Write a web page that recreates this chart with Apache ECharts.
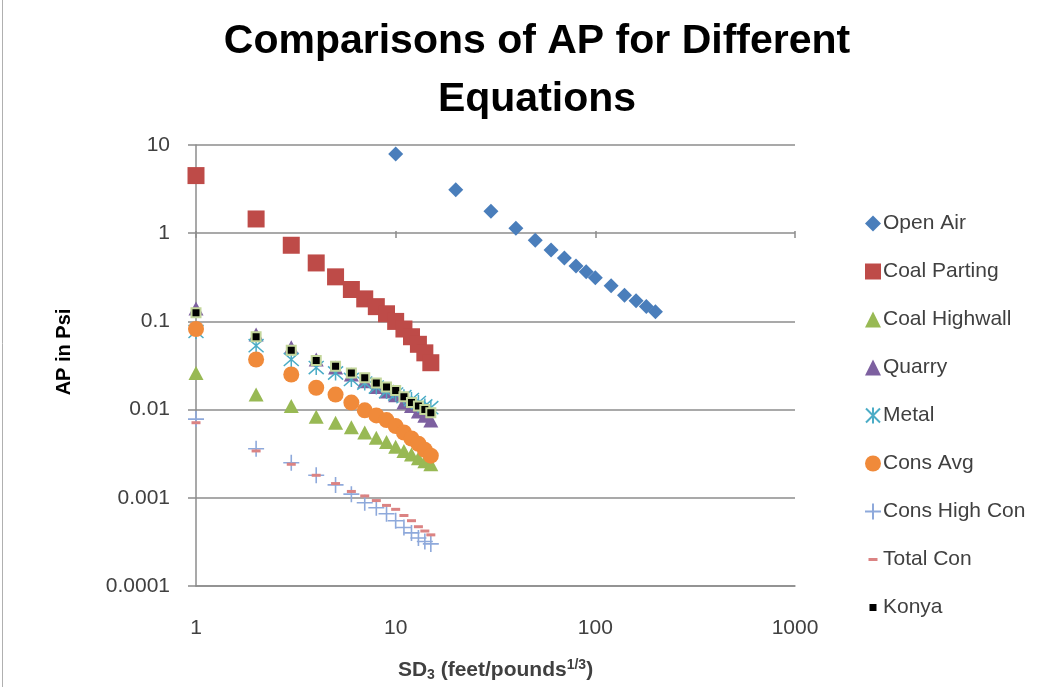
<!DOCTYPE html>
<html>
<head>
<meta charset="utf-8">
<title>Comparisons of AP for Different Equations</title>
<script src="https://cdn.jsdelivr.net/npm/echarts@6/dist/echarts.min.js"></script>
<style>
  html, body { margin: 0; padding: 0; background: #ffffff; }
  #chart { width: 1050px; height: 687px; }
</style>
</head>
<body>
<div id="chart"></div>
<script>
// Scaled distance values (feet/pounds^1/3)
const sdShort = [1, 2, 3, 4, 5, 6, 7, 8, 9, 10, 11, 12, 13, 14, 15];
const sdOpenAir = [10, 20, 30, 40, 50, 60, 70, 80, 90, 100, 120, 140, 160, 180, 200];

// Air overpressure (psi) per equation
const openAir      = [7.9, 3.1, 1.77, 1.14, 0.83, 0.645, 0.525, 0.426, 0.366, 0.312, 0.254, 0.198, 0.172, 0.148, 0.129];
const coalParting  = [4.5, 1.45, 0.73, 0.46, 0.32, 0.23, 0.18, 0.147, 0.122, 0.1, 0.082, 0.067, 0.055, 0.044, 0.034];
const coalHighwall = [0.026, 0.0148, 0.011, 0.0083, 0.0071, 0.0063, 0.0055, 0.0048, 0.0043, 0.0038, 0.0034, 0.0031, 0.0028, 0.0026, 0.0024];
const quarry       = [0.14, 0.071, 0.051, 0.037, 0.03, 0.025, 0.021, 0.018, 0.016, 0.0145, 0.012, 0.011, 0.0095, 0.0085, 0.0075];
const metal        = [0.077, 0.053, 0.037, 0.03, 0.026, 0.022, 0.02, 0.018, 0.016, 0.015, 0.014, 0.013, 0.012, 0.011, 0.0105];
const consAvg      = [0.082, 0.037, 0.025, 0.0177, 0.0148, 0.012, 0.0098, 0.0086, 0.0076, 0.0065, 0.0055, 0.0047, 0.0041, 0.0035, 0.003];
const consHighCon  = [0.0078, 0.0036, 0.0025, 0.0018, 0.0014, 0.0011, 0.00088, 0.00077, 0.00066, 0.00055, 0.00046, 0.0004, 0.00035, 0.00032, 0.0003];
const totalCon     = [0.0071, 0.0034, 0.0024, 0.0018, 0.00145, 0.00118, 0.00105, 0.00093, 0.00082, 0.00074, 0.00063, 0.00055, 0.00047, 0.00042, 0.00038];
const konya        = [0.125, 0.067, 0.047, 0.036, 0.031, 0.026, 0.023, 0.02, 0.018, 0.0165, 0.014, 0.012, 0.011, 0.01, 0.0092];

// Axis tick labels
const xTickLabels = ['1', '10', '100', '1000'];
const yTickLabels = ['0.0001', '0.001', '0.01', '0.1', '1', '10'];

const FONT = '"Liberation Sans", Arial, sans-serif';
const GRID_GRAY = '#8c8c8c';
const TEXT_GRAY = '#404040';

function pairs(xs, ys) {
  return xs.map((x, i) => [x, ys[i]]);
}

// Marker outlines
const PLUS_PATH = 'path://M8,0 L8,16 M0,8 L16,8';
const ASTERISK_PATH = 'path://M1,1 L15,15 M15,1 L1,15 M8,0 L8,16';
// Legend icons padded with near-invisible corner dots so the small marks keep their size
const KONYA_ICON = 'path://M0,0h0.01v0.01h-0.01z M16,16h0.01v0.01h-0.01z M4.5,4.5h7v7h-7z';
const DASH_ICON = 'path://M0,0h0.01v0.01h-0.01z M16,16h0.01v0.01h-0.01z M3.5,6.5h9v3h-9z';

const chart = echarts.init(document.getElementById('chart'), null, { renderer: 'canvas' });

const series = [
  { name: 'Open Air', data: pairs(sdOpenAir, openAir), symbol: 'diamond', symbolSize: 15,
    itemStyle: { color: '#4A7EBB' } },
  { name: 'Coal Parting', data: pairs(sdShort, coalParting), symbol: 'rect', symbolSize: 17,
    itemStyle: { color: '#BE4B48' } },
  { name: 'Coal Highwall', data: pairs(sdShort, coalHighwall), symbol: 'triangle', symbolSize: [15, 14],
    itemStyle: { color: '#98B954' } },
  { name: 'Quarry', data: pairs(sdShort, quarry), symbol: 'triangle', symbolSize: [15, 14],
    itemStyle: { color: '#7D60A0' } },
  { name: 'Metal', data: pairs(sdShort, metal), symbol: ASTERISK_PATH, symbolSize: 15,
    itemStyle: { color: 'rgba(0,0,0,0)', borderColor: '#4BACC6', borderWidth: 1.5 } },
  { name: 'Cons Avg', data: pairs(sdShort, consAvg), symbol: 'circle', symbolSize: 16,
    itemStyle: { color: '#F08A3A' } },
  { name: 'Cons High Con', data: pairs(sdShort, consHighCon), symbol: PLUS_PATH, symbolSize: 16,
    itemStyle: { color: 'rgba(0,0,0,0)', borderColor: '#8EA9DB', borderWidth: 1.6 } },
  { name: 'Total Con', data: pairs(sdShort, totalCon), symbol: 'rect', symbolSize: [9, 3],
    itemStyle: { color: '#DB8383' } },
  { name: 'Konya', data: pairs(sdShort, konya), symbol: 'rect', symbolSize: 9,
    itemStyle: { color: '#000000', borderColor: '#C3D69B', borderWidth: 2 } }
].map(s => {
  s.itemStyle.opacity = 1;
  return Object.assign({ type: 'scatter', xAxisIndex: 0, yAxisIndex: 0, emphasis: { disabled: true } }, s);
});

const legendItems = {
  'Konya': { icon: KONYA_ICON, itemStyle: { color: '#000000', borderWidth: 0 } },
  'Total Con': { icon: DASH_ICON }
};

function logIndex(v) {
  return Math.round(Math.log10(v));
}

const option = {
  backgroundColor: '#ffffff',
  animation: false,
  textStyle: { fontFamily: FONT },
  title: {
    text: 'Comparisons of AP for Different\nEquations',
    left: 532,
    top: 8,
    textAlign: 'center',
    textStyle: {
      fontFamily: FONT,
      fontWeight: 'bold',
      fontSize: 41,
      lineHeight: 58,
      color: '#000000'
    }
  },
  legend: {
    orient: 'vertical',
    left: 859,
    top: 208,
    itemWidth: 16,
    itemHeight: 16,
    itemGap: 27,
    textStyle: { fontFamily: FONT, fontSize: 21, color: TEXT_GRAY, padding: [0, 0, 0, -3] },
    data: series.map(s => Object.assign({ name: s.name }, legendItems[s.name] || {}))
  },
  grid: {
    left: 196,
    right: 255,
    top: 145,
    bottom: 98,
    containLabel: false
  },
  xAxis: [
    {
      type: 'log',
      logBase: 10,
      min: 1,
      max: 1000,
      position: 'bottom',
      name: '{b|SD}{sub|3}{b| (feet/pounds}{sup|1/3}{b|)}',
      nameLocation: 'middle',
      nameGap: 72,
      nameTextStyle: {
        rich: {
          b: { fontFamily: FONT, fontWeight: 'bold', fontSize: 21, color: TEXT_GRAY, verticalAlign: 'middle' },
          sub: { fontFamily: FONT, fontWeight: 'bold', fontSize: 14, color: TEXT_GRAY, padding: [10, 0, 0, 0] },
          sup: { fontFamily: FONT, fontWeight: 'bold', fontSize: 14, color: TEXT_GRAY, padding: [0, 0, 10, 0] }
        }
      },
      axisLine: { show: true, lineStyle: { color: GRID_GRAY, width: 1.5 } },
      axisTick: { show: false },
      splitLine: { show: false },
      axisLabel: {
        margin: 32,
        fontFamily: FONT,
        fontSize: 21,
        color: TEXT_GRAY,
        formatter: v => xTickLabels[logIndex(v)]
      }
    },
    {
      // horizontal axis crossing the value axis at 1: tick marks only, the line is the 1 gridline
      type: 'log',
      logBase: 10,
      min: 1,
      max: 1000,
      position: 'bottom',
      offset: -355,
      axisLine: { show: false },
      axisTick: { show: true, length: 7, lineStyle: { color: GRID_GRAY, width: 1.5 } },
      axisLabel: { show: false },
      splitLine: { show: false }
    }
  ],
  yAxis: {
    type: 'log',
    logBase: 10,
    min: 0.0001,
    max: 10,
    axisLine: { show: true, lineStyle: { color: GRID_GRAY, width: 1.5 } },
    axisTick: { show: true, length: 8, lineStyle: { color: GRID_GRAY, width: 1.5 } },
    splitLine: { show: true, lineStyle: { color: GRID_GRAY, width: 1.5 } },
    axisLabel: {
      margin: 26,
      fontFamily: FONT,
      fontSize: 21,
      color: TEXT_GRAY,
      formatter: v => yTickLabels[logIndex(v) + 4]
    }
  },
  graphic: [
    {
      type: 'text',
      x: 64,
      y: 352,
      rotation: Math.PI / 2,
      style: {
        text: 'AP in Psi',
        font: 'bold 20px ' + FONT,
        fill: '#000000',
        textAlign: 'center',
        textVerticalAlign: 'middle'
      }
    },
    {
      type: 'line',
      shape: { x1: 2.5, y1: 0, x2: 2.5, y2: 687 },
      style: { stroke: '#b0b0b0', lineWidth: 1 }
    }
  ],
  series: series
};

chart.setOption(option);
</script>
</body>
</html>
